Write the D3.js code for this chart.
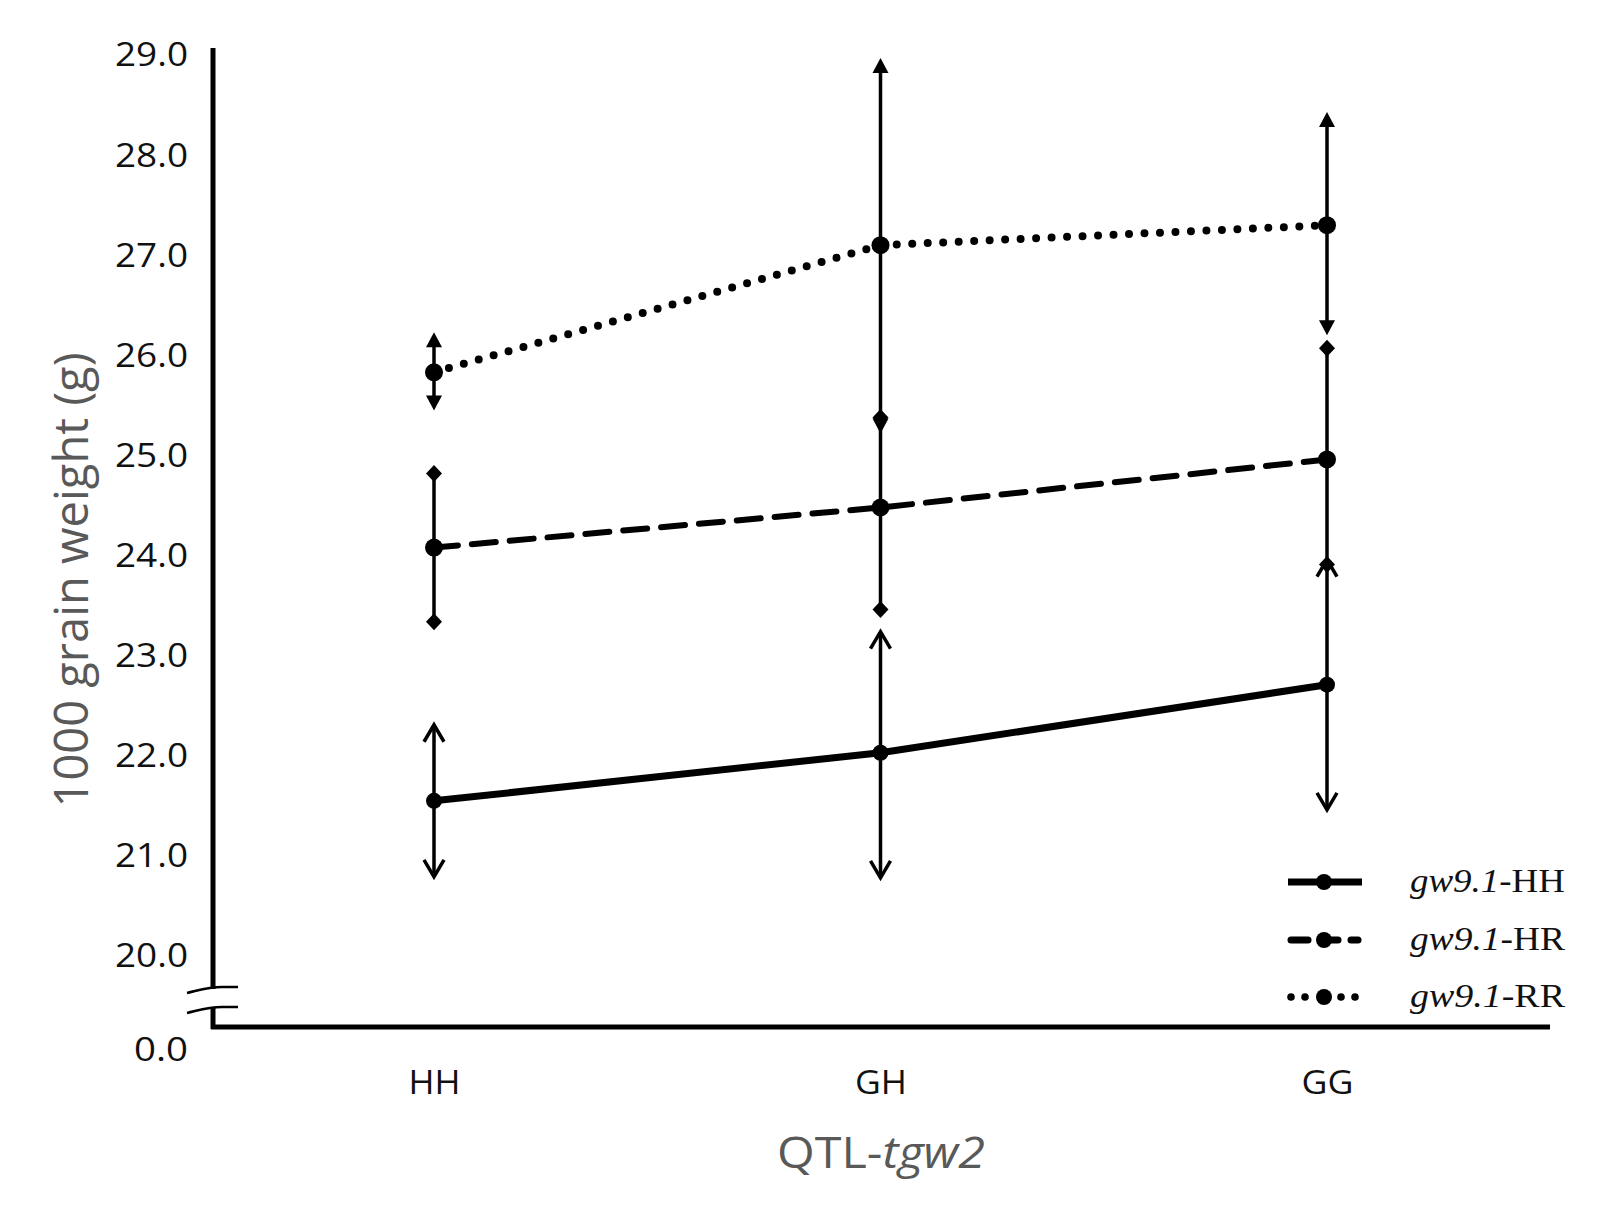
<!DOCTYPE html>
<html><head><meta charset="utf-8">
<script src="https://cdn.jsdelivr.net/npm/d3@7"></script>
<style>body{margin:0;background:#fff}</style>
</head><body>
<script>
const categories = ["HH","GH","GG"];
const seriesNames = ["gw9.1-HH","gw9.1-HR","gw9.1-RR"];
const meanHH = [21.54, 22.02, 22.70];
const upperHH = [22.30, 23.23, 23.95];
const lowerHH = [20.78, 20.77, 21.45];
const meanHR = [24.07, 24.47, 24.95];
const upperHR = [24.81, 25.37, 26.06];
const lowerHR = [23.33, 23.45, 23.90];
const meanRR = [25.82, 27.09, 27.29];
const upperRR = [26.22, 28.96, 28.42];
const lowerRR = [25.44, 25.21, 26.19];
const yTicks = [0, 20, 21, 22, 23, 24, 25, 26, 27, 28, 29];

const W = 1602, H = 1205;
const svg = d3.select("body").append("svg").attr("width", W).attr("height", H);

const x = d3.scalePoint().domain(categories).range([434, 1327]);
const y = d3.scaleLinear().domain([0, 20, 29]).range([1049, 955, 54]);

const series = [
  {name: seriesNames[0], mean: meanHH, up: upperHH, lo: lowerHH, kind: "solid"},
  {name: seriesNames[1], mean: meanHR, up: upperHR, lo: lowerHR, kind: "dash"},
  {name: seriesNames[2], mean: meanRR, up: upperRR, lo: lowerRR, kind: "dot"}
];

const yAxis = d3.axisLeft(y).tickValues(yTicks).tickSize(0).tickPadding(0).tickFormat(d3.format(".1f"));
const yg = svg.append("g").attr("transform", "translate(188,0)").call(yAxis);
yg.select(".domain").remove();
yg.selectAll("text").attr("font-family", "'Open Sans', sans-serif").attr("font-size", 33)
  .attr("fill", "#111").attr("dy", "0.36em")
  .attr("textLength", d => d === 0 ? 54 : 73).attr("lengthAdjust", "spacingAndGlyphs");

const xAxis = d3.axisBottom(x).tickSize(0).tickPadding(0);
const xg = svg.append("g").attr("transform", "translate(0,1094)").call(xAxis);
xg.select(".domain").remove();
xg.selectAll("text").attr("font-family", "'Open Sans', sans-serif").attr("font-size", 33)
  .attr("fill", "#111").attr("dy", "0").attr("textLength", 52).attr("lengthAdjust", "spacingAndGlyphs");

const ax = svg.append("g").attr("stroke", "#000").attr("fill", "none");
ax.append("line").attr("x1", 213).attr("x2", 213).attr("y1", 48).attr("y2", 989).attr("stroke-width", 5);
ax.append("line").attr("x1", 213).attr("x2", 213).attr("y1", 1007).attr("y2", 1029).attr("stroke-width", 5);
ax.append("line").attr("x1", 211).attr("x2", 1550).attr("y1", 1027).attr("y2", 1027).attr("stroke-width", 5);
ax.append("path").attr("d", "M187,993 C200,990 208,987 222,987 L238,987").attr("stroke-width", 2.5);
ax.append("path").attr("d", "M187,1013 C200,1010 208,1007 222,1007 L238,1007").attr("stroke-width", 2.5);

const styles = {
  solid: {w: 7, dash: null, cap: "butt"},
  dash: {w: 6, dash: "24,14", cap: "round"},
  dot: {w: 8, dash: "0,15.5", cap: "round"}
};

const plot = svg.append("g");

function arrowFilled(g, cx, cy, dir) {
  g.append("path").attr("d", `M${cx},${cy} L${cx-8},${cy - dir*15} L${cx+8},${cy - dir*15} Z`).attr("fill", "#000");
}
function arrowOpen(g, cx, cy, dir) {
  g.append("path").attr("d", `M${cx-10},${cy - dir*17} L${cx},${cy} L${cx+10},${cy - dir*17}`)
    .attr("fill", "none").attr("stroke", "#000").attr("stroke-width", 3.5);
}
function diamond(g, cx, cy) {
  g.append("path").attr("d", `M${cx},${cy-8.5} L${cx+8},${cy} L${cx},${cy+8.5} L${cx-8},${cy} Z`).attr("fill", "#000");
}

const order = [1, 2, 0];
order.forEach(si => {
  const s = series[si];
  const g = plot.append("g");
  categories.forEach((c, i) => {
    const cx = x(c);
    const yu = y(s.up[i]), yl = y(s.lo[i]);
    if (s.kind === "solid") {
      g.append("line").attr("x1", cx).attr("x2", cx).attr("y1", yu + 1).attr("y2", yl - 1).attr("stroke", "#000").attr("stroke-width", 3.5);
      arrowOpen(g, cx, yu, -1); arrowOpen(g, cx, yl, 1);
    } else if (s.kind === "dot") {
      g.append("line").attr("x1", cx).attr("x2", cx).attr("y1", yu + 10).attr("y2", yl - 10).attr("stroke", "#000").attr("stroke-width", 3.5);
      arrowFilled(g, cx, yu, -1); arrowFilled(g, cx, yl, 1);
    } else {
      g.append("line").attr("x1", cx).attr("x2", cx).attr("y1", yu).attr("y2", yl).attr("stroke", "#000").attr("stroke-width", 3.5);
      diamond(g, cx, yu); diamond(g, cx, yl);
    }
  });
});

const line = d3.line().x((d, i) => x(categories[i])).y(d => y(d));
series.forEach(s => {
  const st = styles[s.kind];
  plot.append("path").datum(s.mean).attr("d", line).attr("fill", "none").attr("stroke", "#000")
    .attr("stroke-width", st.w).attr("stroke-dasharray", st.dash).attr("stroke-linecap", st.cap);
  plot.selectAll(null).data(s.mean).enter().append("circle")
    .attr("cx", (d, i) => x(categories[i])).attr("cy", d => y(d))
    .attr("r", s.kind === "solid" ? 8 : 9).attr("fill", "#000");
});

const legY = [882, 940, 997];
const lg = svg.append("g");
series.forEach((s, i) => {
  const ly = legY[i];
  if (s.kind === "solid") {
    lg.append("line").attr("x1", 1288).attr("x2", 1362).attr("y1", ly).attr("y2", ly).attr("stroke", "#000").attr("stroke-width", 7);
  } else if (s.kind === "dash") {
    lg.append("line").attr("x1", 1291).attr("x2", 1308).attr("y1", ly).attr("y2", ly).attr("stroke", "#000").attr("stroke-width", 7).attr("stroke-linecap", "round");
    lg.append("line").attr("x1", 1325).attr("x2", 1338).attr("y1", ly).attr("y2", ly).attr("stroke", "#000").attr("stroke-width", 7).attr("stroke-linecap", "round");
    lg.append("line").attr("x1", 1351).attr("x2", 1358).attr("y1", ly).attr("y2", ly).attr("stroke", "#000").attr("stroke-width", 7).attr("stroke-linecap", "round");
  } else {
    [1291, 1305, 1341, 1355].forEach(px => lg.append("circle").attr("cx", px).attr("cy", ly).attr("r", 3.8).attr("fill", "#000"));
  }
  lg.append("circle").attr("cx", 1324).attr("cy", ly).attr("r", 8).attr("fill", "#000");
  const parts = s.name.split("-");
  const t = lg.append("text").attr("x", 1410).attr("y", ly + 10)
    .attr("font-family", "'Liberation Serif', 'Times New Roman', serif").attr("font-size", 33).attr("fill", "#111")
    .attr("textLength", 155).attr("lengthAdjust", "spacingAndGlyphs");
  t.append("tspan").attr("font-style", "italic").text(parts[0]);
  t.append("tspan").text("-" + parts[1]);
});

svg.append("text").attr("transform", "translate(88,580) rotate(-90)").attr("text-anchor", "middle")
  .attr("font-family", "'Open Sans', sans-serif").attr("font-size", 47).attr("fill", "#595959")
  .attr("textLength", 455).attr("lengthAdjust", "spacingAndGlyphs")
  .text("1000 grain weight (g)");

const xt = svg.append("text").attr("x", 881).attr("y", 1168).attr("text-anchor", "middle")
  .attr("font-family", "'Open Sans', sans-serif").attr("font-size", 43).attr("fill", "#595959")
  .attr("textLength", 208).attr("lengthAdjust", "spacingAndGlyphs");
xt.append("tspan").text("QTL-");
xt.append("tspan").attr("font-style", "italic").text("tgw2");
</script>
</body></html>
